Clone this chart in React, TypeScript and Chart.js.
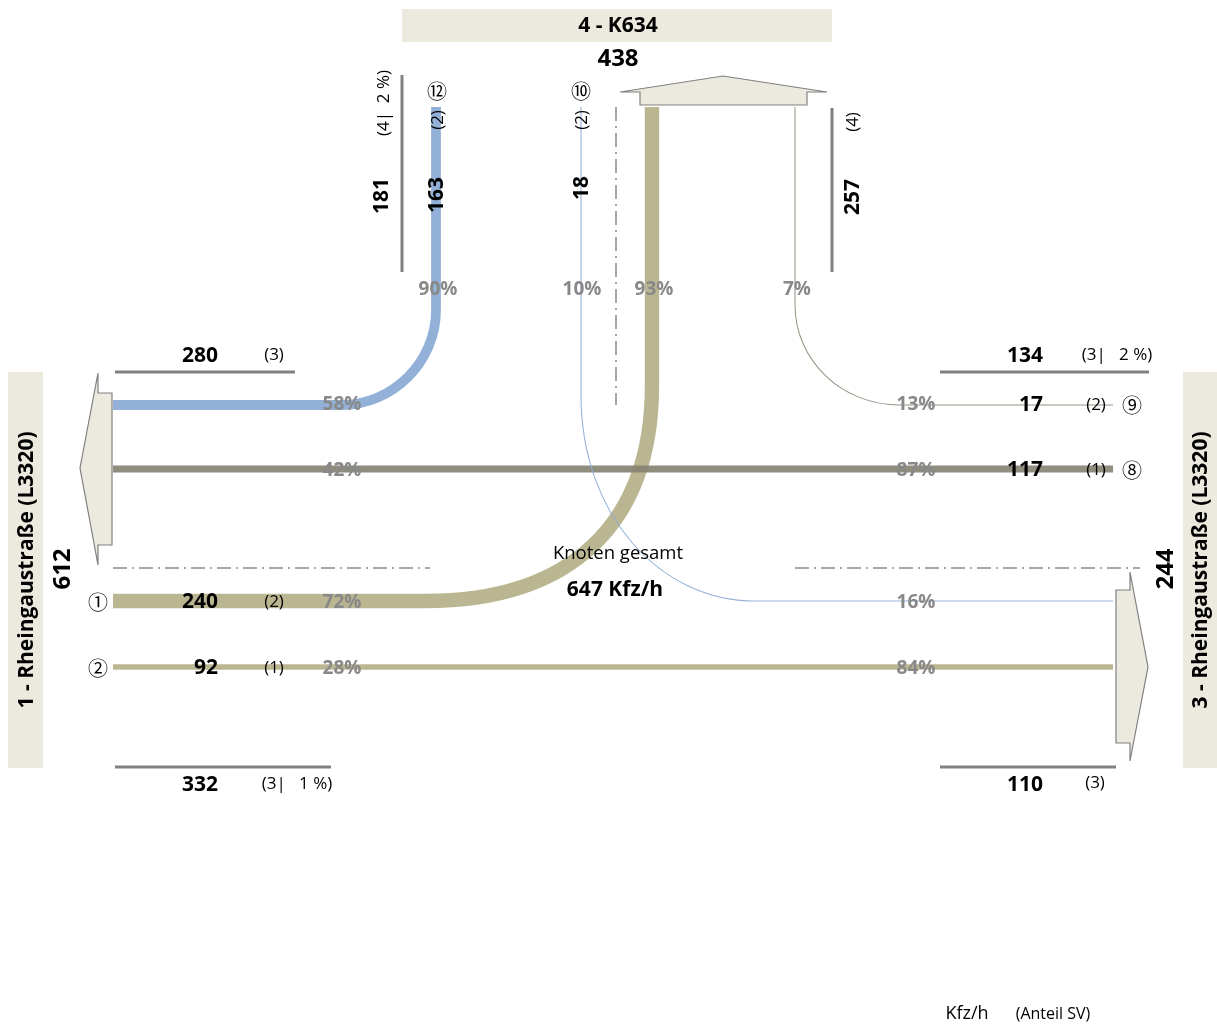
import React, { useEffect, useRef } from "react";
import { Chart, registerables } from "chart.js";

Chart.register(...registerables);

// ---------- data ----------
const flowIds = ["①", "②", "⑧", "⑨", "⑩", "⑫"];
const flowValues = [240, 92, 117, 17, 18, 163];
const flowSV = [2, 1, 1, 2, 2, 2];
const flowShareFrom = [72, 28, 87, 13, 10, 90];
const flowShareTo = [93, 84, 42, 7, 16, 58];

const armNames = ["1 - Rheingaustraße (L3320)", "3 - Rheingaustraße (L3320)", "4 - K634"];
const armTotals = [612, 244, 438];
const armInbound = [332, 134, 181];
const armInboundSV = ["(3|   1 %)", "(3|   2 %)", "(4|  2 %)"];
const armOutbound = [280, 110, 257];
const armOutboundSV = ["(3)", "(3)", "(4)"];
const nodeTotal = 647;

// ---------- layout / styles ----------
const W = 1217;
const H = 1025;
const FONT = '"Open Sans", "Noto Sans", sans-serif';
const ID_FONT = '"Noto Sans CJK JP", "DejaVu Sans", sans-serif';
const BOX = "#ECE9DF";
const GREY_BAR = "#808080";
const PCT = "#888888";
const WIDTH_PER_VEH = 0.06;

type Seg = [string, ...number[]];
const flowPaths: Seg[][] = [
  [["M", 113, 601], ["L", 425, 601], ["C", 570, 601, 652, 525, 652, 385], ["L", 652, 107]],
  [["M", 113, 667], ["L", 1113, 667]],
  [["M", 113, 469], ["L", 1113, 469]],
  [["M", 795, 107], ["L", 795, 305], ["C", 795, 360, 841, 405, 900, 405], ["L", 1113, 405]],
  [["M", 581, 107], ["L", 581, 395], ["C", 581, 515, 660, 601, 755, 601], ["L", 1113, 601]],
  [["M", 436, 107], ["L", 436, 310], ["C", 436, 362, 393, 405, 341, 405], ["L", 113, 405]],
];
const flowColors = ["#B6B08A", "#B6B08A", "#878473", "#8E8B7B", "#8EADD6", "#8BABD5"];
const flowLabelPos = [
  { id: [98, 602], val: [200, 601], sv: [274, 601], from: [342, 601], to: [654, 288], rot: false },
  { id: [98, 668], val: [206, 667], sv: [274, 667], from: [342, 667], to: [916, 667], rot: false },
  { id: [1132, 470], val: [1025, 469], sv: [1096, 469], from: [916, 469], to: [342, 469], rot: false },
  { id: [1132, 405], val: [1031, 404], sv: [1096, 404], from: [916, 403], to: [797, 288], rot: false },
  { id: [581, 91], val: [581, 188], sv: [581, 120], from: [582, 288], to: [916, 601], rot: true },
  { id: [437, 91], val: [436, 195], sv: [437, 120], from: [438, 288], to: [342, 403], rot: true },
];

const armBoxes = [
  { x: 8, y: 372, w: 35, h: 396, tx: 26, ty: 570, rot: true },
  { x: 1183, y: 372, w: 34, h: 396, tx: 1200, ty: 570, rot: true },
  { x: 402, y: 9, w: 430, h: 33, tx: 618, ty: 25, rot: false },
];
const armTotalPos = [
  { x: 62, y: 569, rot: true },
  { x: 1165, y: 569, rot: true },
  { x: 618, y: 58, rot: false },
];
const armInPos = [
  { bar: [115, 767, 331, 767], val: [200, 784], sv: [297, 783], rot: false },
  { bar: [940, 372, 1149, 372], val: [1025, 355], sv: [1117, 354], rot: false },
  { bar: [402, 75, 402, 272], val: [381, 196], sv: [383, 103], rot: true },
];
const armOutPos = [
  { bar: [115, 372, 295, 372], val: [200, 355], sv: [274, 354], rot: false },
  { bar: [940, 767, 1116, 767], val: [1025, 784], sv: [1095, 782], rot: false },
  { bar: [832, 108, 832, 272], val: [852, 197], sv: [852, 122], rot: true },
];
const arrows: number[][][] = [
  [[98, 373], [98, 393], [112, 393], [112, 545], [98, 545], [98, 565], [80, 468]],
  [[1130, 572], [1130, 590], [1116, 590], [1116, 743], [1130, 743], [1130, 761], [1148, 667]],
  [[620, 92], [723, 76], [827, 92], [807, 92], [807, 105], [640, 105], [640, 92]],
];
const dashLines = [
  [113, 568, 430, 568],
  [795, 568, 1140, 568],
  [616, 107, 616, 405],
];

const diagramPlugin = {
  id: "diagram",
  beforeDatasetsDraw(chart: any) {
    const { ctx } = chart;
    const xs = chart.scales.x;
    const ys = chart.scales.y;
    const X = (v: number) => xs.getPixelForValue(v);
    const Y = (v: number) => ys.getPixelForValue(v);

    const text = (s: string, x: number, y: number, font: string, color: string, rot = false, dy = 1.5) => {
      ctx.save();
      ctx.font = font;
      ctx.fillStyle = color;
      ctx.textAlign = "center";
      ctx.textBaseline = "middle";
      ctx.translate(X(x), Y(y));
      if (rot) ctx.rotate(-Math.PI / 2);
      ctx.fillText(s, 0, dy);
      ctx.restore();
    };
    const line = (a: number[], color: string, width: number, dash: number[] = []) => {
      ctx.save();
      ctx.strokeStyle = color;
      ctx.lineWidth = width;
      ctx.setLineDash(dash);
      ctx.beginPath();
      ctx.moveTo(X(a[0]), Y(a[1]));
      ctx.lineTo(X(a[2]), Y(a[3]));
      ctx.stroke();
      ctx.restore();
    };

    ctx.save();
    armBoxes.forEach((b) => {
      ctx.fillStyle = BOX;
      ctx.fillRect(X(b.x), Y(b.y), X(b.x + b.w) - X(b.x), Y(b.y + b.h) - Y(b.y));
    });
    dashLines.forEach((d) => line(d, "#8c8c8c", 1.5, [14, 5, 2, 5]));
    flowPaths.forEach((p, i) => {
      ctx.save();
      ctx.strokeStyle = flowColors[i];
      ctx.globalAlpha = 0.93;
      ctx.lineWidth = Math.max(1, flowValues[i] * WIDTH_PER_VEH);
      ctx.lineCap = "butt";
      ctx.beginPath();
      p.forEach((s) => {
        const [t, ...n] = s;
        if (t === "M") ctx.moveTo(X(n[0]), Y(n[1]));
        else if (t === "L") ctx.lineTo(X(n[0]), Y(n[1]));
        else ctx.bezierCurveTo(X(n[0]), Y(n[1]), X(n[2]), Y(n[3]), X(n[4]), Y(n[5]));
      });
      ctx.stroke();
      ctx.restore();
    });
    arrows.forEach((a) => {
      ctx.beginPath();
      a.forEach((pt, k) => (k ? ctx.lineTo(X(pt[0]), Y(pt[1])) : ctx.moveTo(X(pt[0]), Y(pt[1]))));
      ctx.closePath();
      ctx.fillStyle = BOX;
      ctx.fill();
      ctx.strokeStyle = "#808080";
      ctx.lineWidth = 1.2;
      ctx.stroke();
    });
    armInPos.forEach((a) => line(a.bar, GREY_BAR, 3));
    armOutPos.forEach((a) => line(a.bar, GREY_BAR, 3));
    ctx.restore();

    const B21 = `bold 21px ${FONT}`;
    const N17 = `17px ${FONT}`;
    const INK = "#000";
    armBoxes.forEach((b, i) => text(armNames[i], b.tx, b.ty, `bold 21px ${FONT}`, INK, b.rot));
    armTotalPos.forEach((p, i) => text(String(armTotals[i]), p.x, p.y, `bold 24px ${FONT}`, INK, p.rot));
    armInPos.forEach((p, i) => {
      text(String(armInbound[i]), p.val[0], p.val[1], B21, INK, p.rot);
      text(armInboundSV[i], p.sv[0], p.sv[1], N17, INK, p.rot);
    });
    armOutPos.forEach((p, i) => {
      text(String(armOutbound[i]), p.val[0], p.val[1], B21, INK, p.rot);
      text(armOutboundSV[i], p.sv[0], p.sv[1], N17, INK, p.rot);
    });
    flowLabelPos.forEach((p, i) => {
      text(flowIds[i], p.id[0], p.id[1], `20px ${ID_FONT}`, INK, false, 0);
      text(String(flowValues[i]), p.val[0], p.val[1], B21, INK, p.rot);
      text(`(${flowSV[i]})`, p.sv[0], p.sv[1], N17, INK, p.rot);
      text(`${flowShareFrom[i]}%`, p.from[0], p.from[1], `bold 19px ${FONT}`, PCT);
      text(`${flowShareTo[i]}%`, p.to[0], p.to[1], `bold 19px ${FONT}`, PCT);
    });
    text("Knoten gesamt", 618, 552, `18.5px ${FONT}`, INK);
    text(`${nodeTotal} Kfz/h`, 615, 589, B21, INK);
    text("Kfz/h", 967, 1012, `18px ${FONT}`, INK);
    text("(Anteil SV)", 1053, 1013, `16px ${FONT}`, INK);
  },
};

export default function App() {
  const ref = useRef<HTMLCanvasElement>(null);
  useEffect(() => {
    if (!ref.current) return;
    const chart = new Chart(ref.current, {
      type: "scatter",
      data: { datasets: [{ data: [] }] },
      options: {
        responsive: false,
        animation: false,
        devicePixelRatio: 1,
        layout: { padding: 0 },
        plugins: { legend: { display: false }, tooltip: { enabled: false } },
        scales: {
          x: { type: "linear", min: 0, max: W, display: false },
          y: { type: "linear", min: 0, max: H, reverse: true, display: false },
        },
      },
      plugins: [diagramPlugin],
    });
    return () => chart.destroy();
  }, []);
  return (
    <div style={{ position: "absolute", left: 0, top: 0, width: W, height: H, background: "#fff" }}>
      <canvas ref={ref} width={W} height={H} style={{ display: "block" }} />
    </div>
  );
}
